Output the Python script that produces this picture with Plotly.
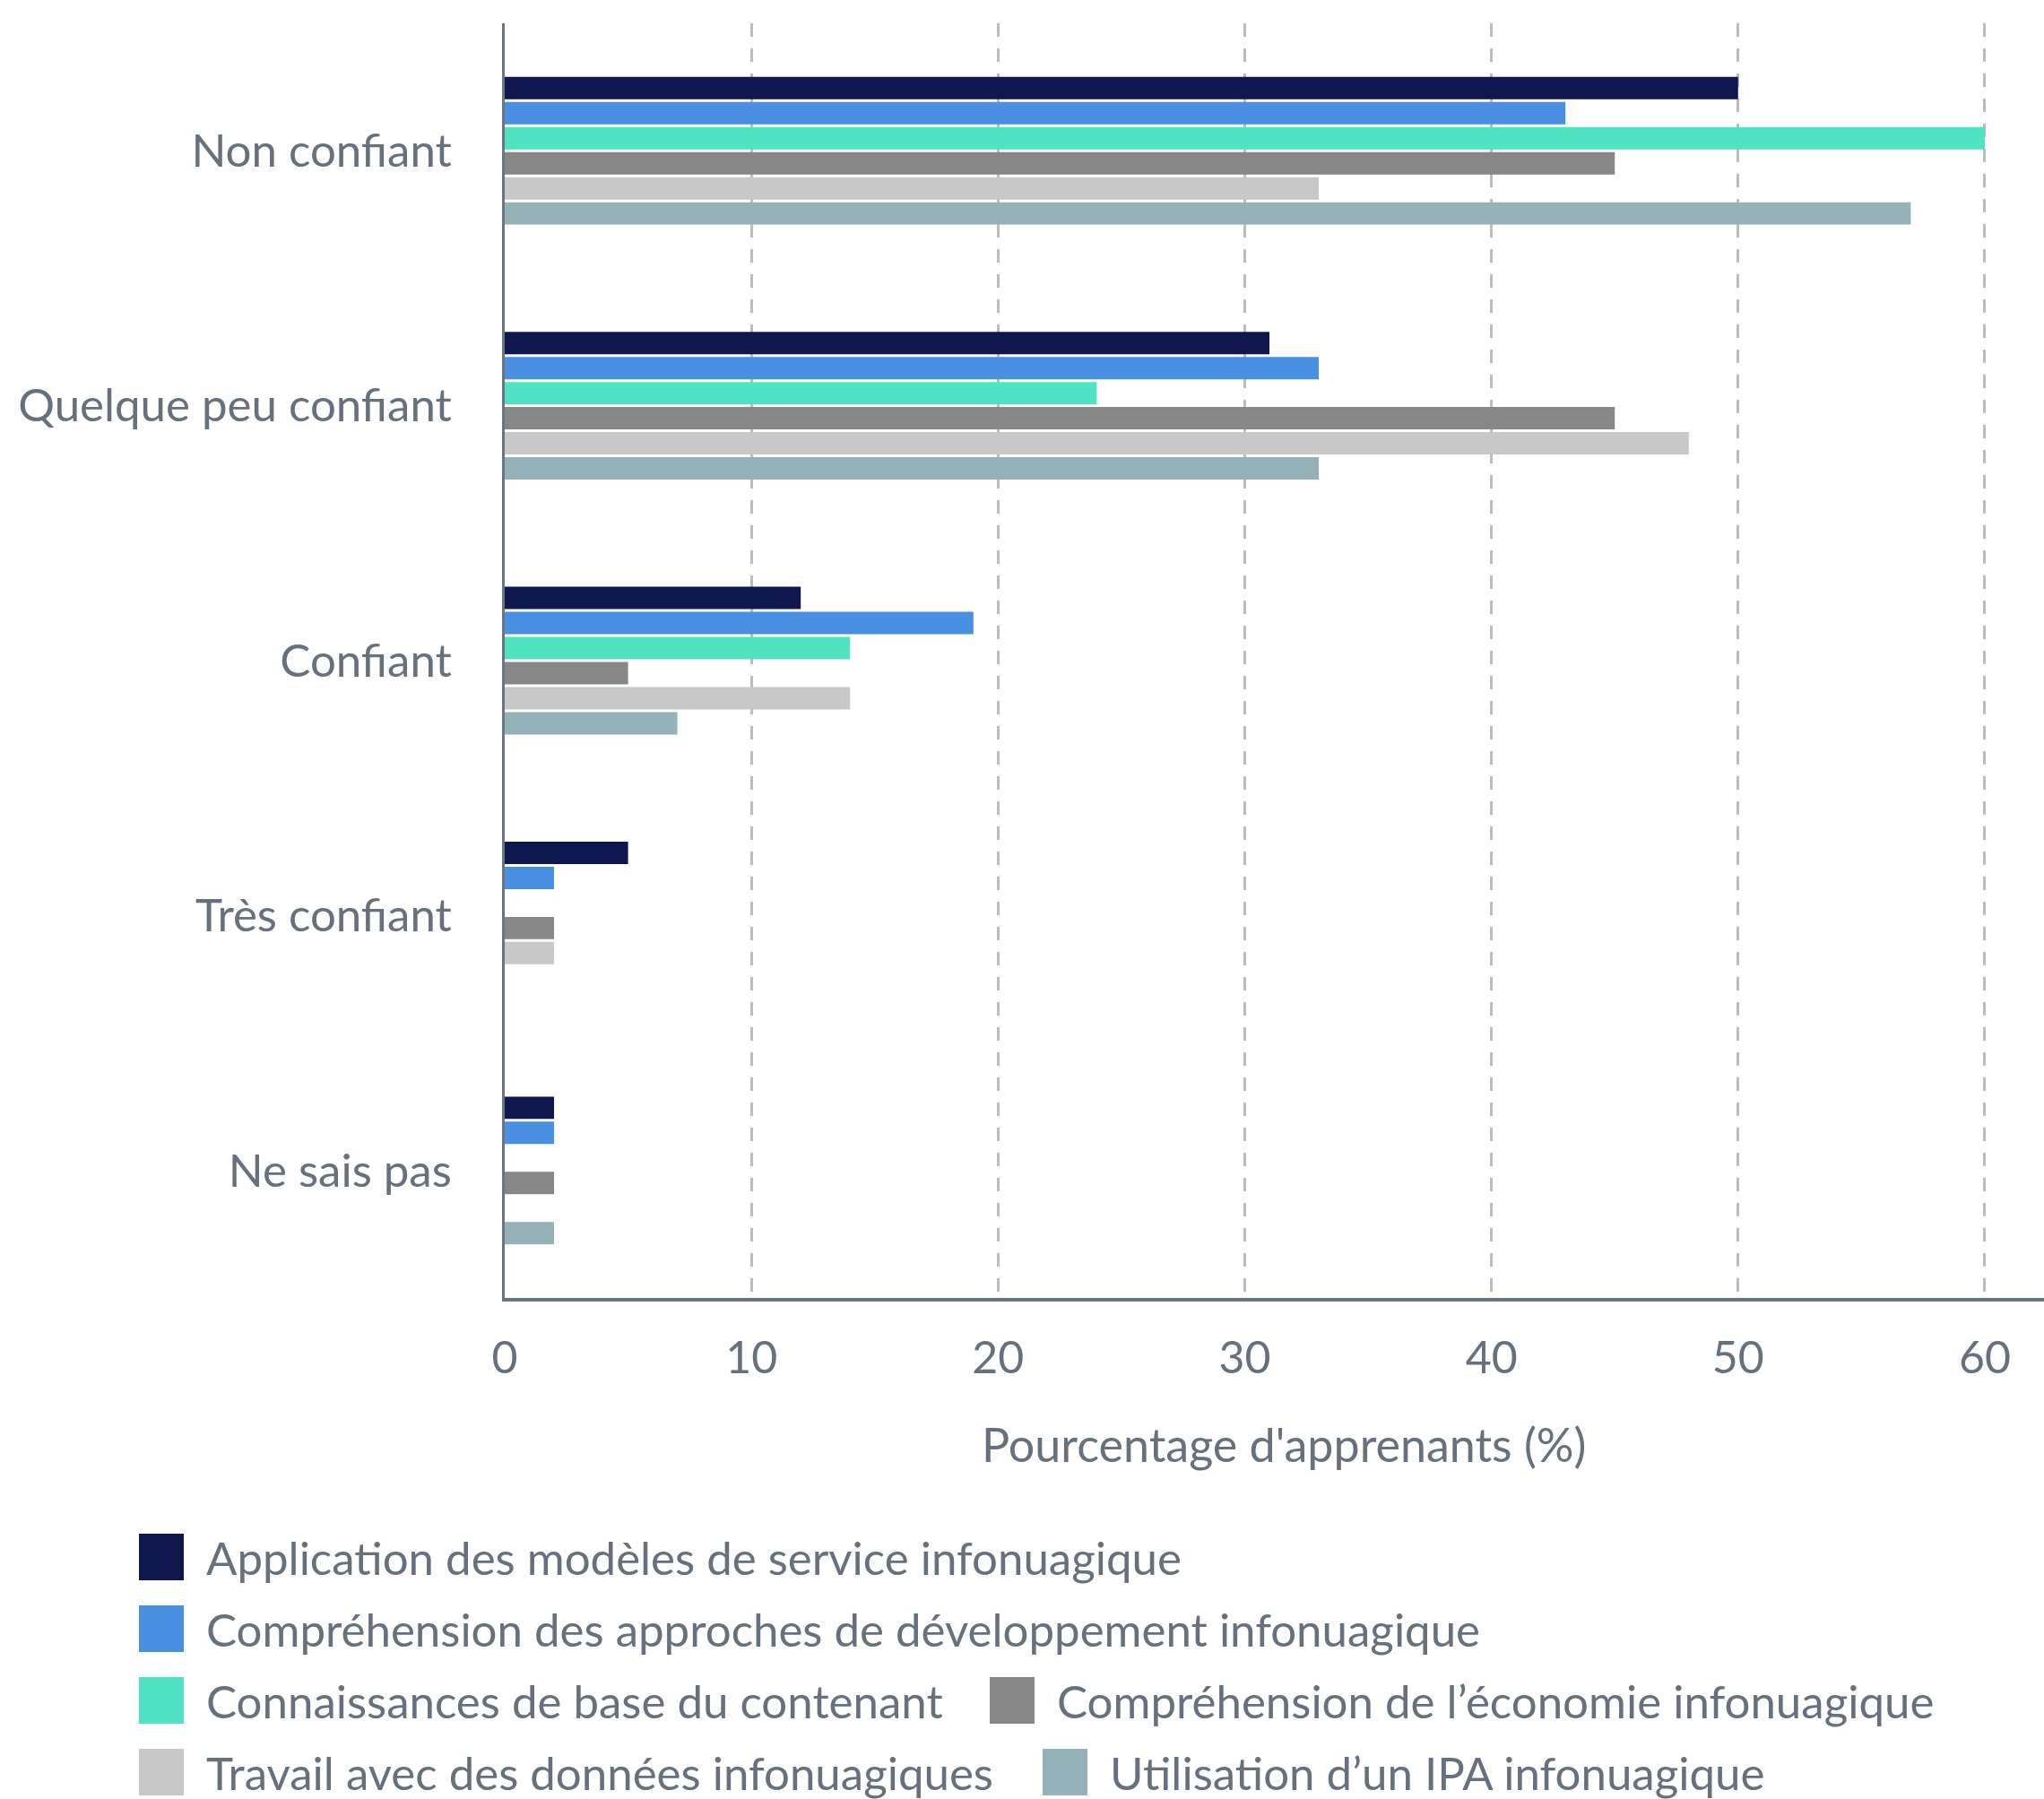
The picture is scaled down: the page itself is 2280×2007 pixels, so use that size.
import plotly.graph_objects as go

# Confidence levels (top to bottom) and the six skill areas
categories = ["Non confiant", "Quelque peu confiant", "Confiant", "Très confiant", "Ne sais pas"]

series_names = [
    "Application des modèles de service infonuagique",
    "Compréhension des approches de développement infonuagique",
    "Connaissances de base du contenant",
    "Compréhension de l’économie infonuagique",
    "Travail avec des données infonuagiques",
    "Utilisation d’un IPA infonuagique",
]

application_modeles = [50, 31, 12, 5, 2]
approches_developpement = [43, 33, 19, 2, 2]
connaissances_contenant = [60, 24, 14, 0, 0]
economie_infonuagique = [45, 45, 5, 2, 2]
travail_donnees = [33, 48, 14, 2, 0]
utilisation_ipa = [57, 33, 7, 0, 2]

series_values = [
    application_modeles,
    approches_developpement,
    connaissances_contenant,
    economie_infonuagique,
    travail_donnees,
    utilisation_ipa,
]

colors = ["#0e184e", "#4a90e2", "#50e3c2", "#878787", "#c8c8c8", "#94b2b7"]

x_ticks = [0, 10, 20, 30, 40, 50, 60]

TEXT = "#67717d"
FONT = "Lato"

W, H = 2280, 2007
M_L, M_R, M_T, M_B = 563, 0, 26, 559
PW = W - M_L - M_R
PH = H - M_T - M_B

fig = go.Figure()
for name, vals, col in zip(series_names, series_values, colors):
    fig.add_trace(go.Bar(
        y=categories, x=vals, name=name, orientation="h",
        marker=dict(color=col, line=dict(width=0)),
        showlegend=False,
    ))

fig.update_layout(
    width=W, height=H,
    margin=dict(l=M_L, r=M_R, t=M_T, b=M_B),
    paper_bgcolor="white", plot_bgcolor="white",
    barmode="group", bargap=0.41, bargroupgap=0.107,
    font=dict(family=FONT, color=TEXT, size=48),
    xaxis=dict(
        range=[0, 62.4], tickvals=x_ticks, ticktext=[str(t) for t in x_ticks],
        showgrid=True, gridcolor="#b9bcc3", gridwidth=3, griddash="15px,13px",
        zeroline=False, showline=True, linecolor="#6b7580", linewidth=4,
        ticks="", ticklabelstandoff=20, tickfont=dict(size=50, color=TEXT),
    ),
    yaxis=dict(
        autorange="reversed", showgrid=False, zeroline=False,
        showline=True, linecolor="#6b7580", linewidth=3,
        ticks="", ticklabelstandoff=46, tickfont=dict(size=51, color=TEXT),
    ),
)

def px_x(px):
    return (px - M_L) / PW

def px_y(py):
    return (H - M_B - py) / PH

# Axis title
fig.add_annotation(
    text="Pourcentage d'apprenants (%)", xref="paper", yref="paper",
    x=px_x(1432), y=px_y(1611), xanchor="center", yanchor="middle",
    showarrow=False, font=dict(size=52, color=TEXT, family=FONT),
)

# Legend built from swatches and labels, laid out in four rows
legend_rows = [[0], [1], [2, 3], [4, 5]]
row_centers = [1737, 1817, 1897, 1977]
col_starts = {0: 155, 1: 155, 2: 155, 3: 1104, 4: 155, 5: 1163}
SW = 50
for row, cy in zip(legend_rows, row_centers):
    for idx in row:
        x0 = col_starts[idx]
        fig.add_shape(
            type="rect", xref="paper", yref="paper",
            x0=px_x(x0), x1=px_x(x0 + SW), y0=px_y(cy - 26), y1=px_y(cy + 26),
            fillcolor=colors[idx], line=dict(width=0), layer="above",
        )
        fig.add_annotation(
            text=series_names[idx], xref="paper", yref="paper",
            x=px_x(x0 + 73), y=px_y(cy), xanchor="left", yanchor="middle",
            showarrow=False, font=dict(size=51, color=TEXT, family=FONT),
        )

fig.write_html("out.html")
